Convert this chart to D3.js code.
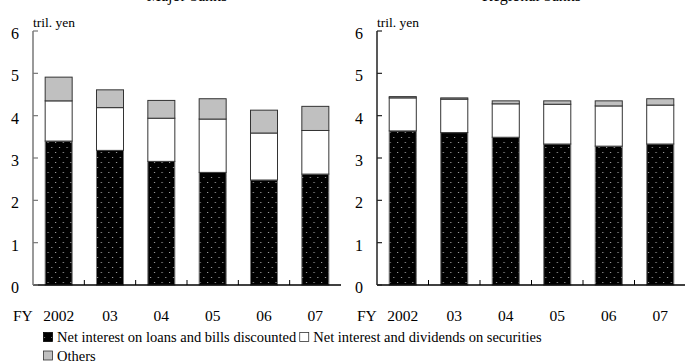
<!DOCTYPE html>
<html><head><meta charset="utf-8">
<script src="https://cdn.jsdelivr.net/npm/d3@7"></script>
<style>body{margin:0;background:#fff}</style>
</head><body><svg id="c" width="685" height="363"></svg>
<script>
const categories = ["2002","03","04","05","06","07"];
const yTicks = [0,1,2,3,4,5,6];
const panelTitles = ["Major banks","Regional banks"];
const seriesNames = ["Net interest on loans and bills discounted","Net interest and dividends on securities","Others"];
// Major banks (tril. yen)
const majorLoans = [3.40,3.18,2.92,2.66,2.48,2.62];
const majorSecurities = [0.95,1.01,1.02,1.26,1.11,1.03];
const majorOthers = [0.56,0.42,0.42,0.48,0.54,0.57];
// Regional banks (tril. yen)
const regionalLoans = [3.64,3.60,3.49,3.33,3.28,3.33];
const regionalSecurities = [0.78,0.79,0.79,0.94,0.95,0.92];
const regionalOthers = [0.03,0.03,0.07,0.08,0.12,0.15];

const FONT = "Liberation Serif";
const svg = d3.select("#c");
const defs = svg.append("defs");
const pat = defs.append("pattern").attr("id","dots").attr("patternUnits","userSpaceOnUse")
  .attr("width",7.6).attr("height",10);
pat.append("rect").attr("width",7.6).attr("height",10).attr("fill","#000");
pat.append("rect").attr("x",2).attr("y",2).attr("width",1).attr("height",1).attr("fill","#bbb");
pat.append("rect").attr("x",5.8).attr("y",7).attr("width",1).attr("height",1).attr("fill","#bbb");

const fills = ["url(#dots)","#fff","#c0c0c0"];
const y = d3.scaleLinear().domain([0,6]).range([285,31]);

const panels = [
  {x0:33, x1:341, title:panelTitles[0], data:[majorLoans,majorSecurities,majorOthers], axisColor:"#777", lx:19},
  {x0:377, x1:686, title:panelTitles[1], data:[regionalLoans,regionalSecurities,regionalOthers], axisColor:"#222", lx:363}
];

panels.forEach(p=>{
  const g = svg.append("g");
  const x = d3.scaleBand().domain(categories).range([p.x0,p.x1]).paddingInner(0.474).paddingOuter(0.237);
  const rows = categories.map((c,i)=>({cat:c, v0:p.data[0][i], v1:p.data[1][i], v2:p.data[2][i]}));
  const stack = d3.stack().keys(["v0","v1","v2"])(rows);
  stack.forEach((s,k)=>{
    g.selectAll(null).data(s).join("rect")
      .attr("x",d=>x(d.data.cat)).attr("width",x.bandwidth())
      .attr("y",d=>y(d[1])).attr("height",d=>y(d[0])-y(d[1]))
      .attr("fill",fills[k]).attr("stroke",k===0?"#777":"#333").attr("stroke-width",1);
  });
  g.append("line").attr("x1",p.x0).attr("x2",p.x1).attr("y1",y(0)).attr("y2",y(0)).attr("stroke","#000").attr("stroke-width",1.3);
  const step = x.step();
  g.selectAll(null).data(categories.slice(1)).join("line")
    .attr("x1",d=>x(d)+x.bandwidth()/2-step/2).attr("x2",d=>x(d)+x.bandwidth()/2-step/2)
    .attr("y1",y(0)).attr("y2",y(0)-5).attr("stroke","#000");
  g.append("line").attr("x1",p.x0).attr("x2",p.x0).attr("y1",y(6)).attr("y2",y(0)).attr("stroke",p.axisColor).attr("stroke-width",1.5);
  g.selectAll(null).data(yTicks).join("line")
    .attr("x1",p.x0).attr("x2",p.x0+5).attr("y1",d=>y(d)).attr("y2",d=>y(d)).attr("stroke",p.axisColor).attr("stroke-width",1.2);
  g.selectAll(null).data(yTicks).join("text").attr("font-family",FONT)
    .attr("x",p.lx).attr("y",d=>y(d)+8).attr("text-anchor","end").attr("font-size",16).text(d=>d);
  g.append("text").attr("font-family",FONT).attr("x",p.x0).attr("y",27).attr("font-size",13.5).text("tril. yen");
  g.selectAll(null).data(categories).join("text").attr("font-family",FONT)
    .attr("x",d=>x(d)+x.bandwidth()/2).attr("y",320.5).attr("text-anchor","middle").attr("font-size",15.5).text(d=>d);
  g.append("text").attr("font-family",FONT).attr("x",p.x0-20).attr("y",320.5).attr("font-size",15.5).text("FY");
  g.append("text").attr("font-family",FONT).attr("x",(p.x0+p.x1)/2).attr("y",0.5).attr("text-anchor","middle").attr("font-size",16).text(p.title);
});

const leg = svg.append("g");
const legItems = [{i:0,x:43,y:342},{i:1,x:null,y:342},{i:2,x:43,y:360.5}];
let cx = 43;
legItems.forEach(it=>{
  const lx = it.x!==null ? it.x : cx;
  leg.append("rect").attr("x",lx+0.5).attr("y",it.y-9.5).attr("width",9).attr("height",9)
    .attr("fill",fills[it.i]).attr("stroke",it.i===0?"#000":"#333").attr("stroke-width",0.8);
  const t = leg.append("text").attr("font-family",FONT).attr("font-size",14.5).attr("x",lx+14).attr("y",it.y).text(seriesNames[it.i]);
  cx = lx + 14 + t.node().getComputedTextLength() + 3;
});
</script></body></html>
